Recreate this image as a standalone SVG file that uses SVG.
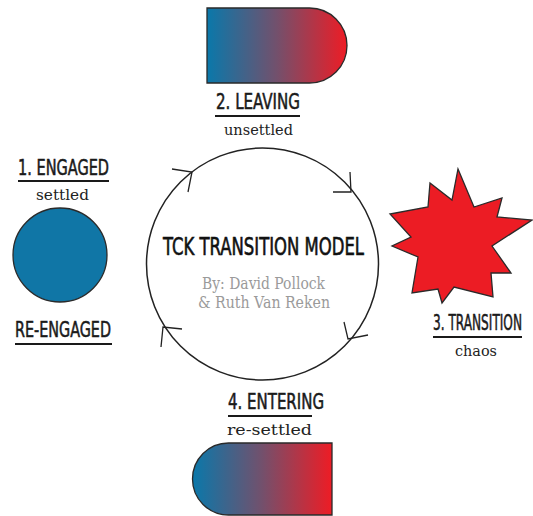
<svg xmlns="http://www.w3.org/2000/svg" width="533" height="516" viewBox="0 0 533 516">
<defs>
<linearGradient id="grad" x1="0" y1="0" x2="1" y2="0">
<stop offset="0" stop-color="#0a78aa"/>
<stop offset="0.5" stop-color="#73506c"/>
<stop offset="1" stop-color="#ee1c25"/>
</linearGradient>
<style>
.lbl{font-family:"DejaVu Sans Condensed","DejaVu Sans",sans-serif;font-stretch:condensed;font-size:22px;fill:#1a1a1a;stroke:#1a1a1a;stroke-width:0.55}
.sub{font-family:"DejaVu Serif","Liberation Serif",serif;font-size:15px;fill:#222}
.ul{stroke:#1a1a1a;stroke-width:2;fill:none}
.shp{stroke:#2a2a2a;stroke-width:1.3}
.arr{stroke:#222;stroke-width:1.3;fill:none;stroke-linejoin:miter}
.title{font-family:"DejaVu Sans Condensed","DejaVu Sans",sans-serif;font-stretch:condensed;font-size:24px;fill:#111;stroke:#111;stroke-width:0.6}
.by{font-family:"DejaVu Serif","Liberation Serif",serif;font-size:16px;fill:#9a9a9a}
</style>
</defs>
<rect width="533" height="516" fill="#fff"/>

<g id="center">
<circle cx="262.5" cy="264" r="116" fill="#fff" stroke="#222" stroke-width="1.5"/>
<text class="title" x="163" y="255" textLength="201" lengthAdjust="spacingAndGlyphs">TCK TRANSITION MODEL</text>
<text class="by" x="202" y="289" textLength="123" lengthAdjust="spacingAndGlyphs">By: David Pollock</text>
<text class="by" x="198" y="308" textLength="132" lengthAdjust="spacingAndGlyphs">&amp; Ruth Van Reken</text>
</g>

<g id="connectors">
<polyline class="arr" points="172,169 192,172 188,192"/>
<polyline class="arr" points="333,192 351,192 350,172"/>
<polyline class="arr" points="344,322 348,339 368,335"/>
<polyline class="arr" points="182,329 163,327 161,347"/>
</g>

<g id="engaged">
<text class="lbl" x="18" y="175" textLength="91" lengthAdjust="spacingAndGlyphs">1. ENGAGED</text>
<line class="ul" x1="18" y1="181" x2="109" y2="181"/>
<text class="sub" x="36" y="200" textLength="53" lengthAdjust="spacingAndGlyphs">settled</text>
<circle class="shp" cx="60" cy="255" r="47" fill="#1076a6"/>
<text class="lbl" x="15" y="337" textLength="96" lengthAdjust="spacingAndGlyphs">RE-ENGAGED</text>
<line class="ul" x1="15" y1="344" x2="112" y2="344"/>
</g>

<g id="leaving">
<path class="shp" d="M207,8 H309.5 A37.5,37.5 0 0 1 309.5,83 H207 Z" fill="url(#grad)"/>
<text class="lbl" x="216" y="109" textLength="84" lengthAdjust="spacingAndGlyphs">2. LEAVING</text>
<line class="ul" x1="215" y1="116" x2="300" y2="116"/>
<text class="sub" x="224" y="135" textLength="69" lengthAdjust="spacingAndGlyphs">unsettled</text>
</g>

<g id="transition">
<polygon class="shp" fill="#ec1c24" points="458,169 474,207 502,198 497,217 532,220 492,246 511,273 491,273 493,297 454,287 442,303 438,289 412,293 418,257 392,246 411,237 390,214 428,207 430,183 452,200"/>
<text class="lbl" x="522" y="330" text-anchor="end" textLength="89" lengthAdjust="spacingAndGlyphs">3. TRANSITION</text>
<line class="ul" x1="433" y1="337" x2="522" y2="337"/>
<text class="sub" x="455" y="356" textLength="42" lengthAdjust="spacingAndGlyphs">chaos</text>
</g>

<g id="entering">
<text class="lbl" x="228" y="409" textLength="96" lengthAdjust="spacingAndGlyphs">4. ENTERING</text>
<line class="ul" x1="228" y1="416" x2="312" y2="416"/>
<text class="sub" x="227" y="435" textLength="85" lengthAdjust="spacingAndGlyphs">re-settled</text>
<path class="shp" d="M332,443 H228.5 A36,36 0 0 0 228.5,515 H332 Z" fill="url(#grad)"/>
</g>
</svg>
